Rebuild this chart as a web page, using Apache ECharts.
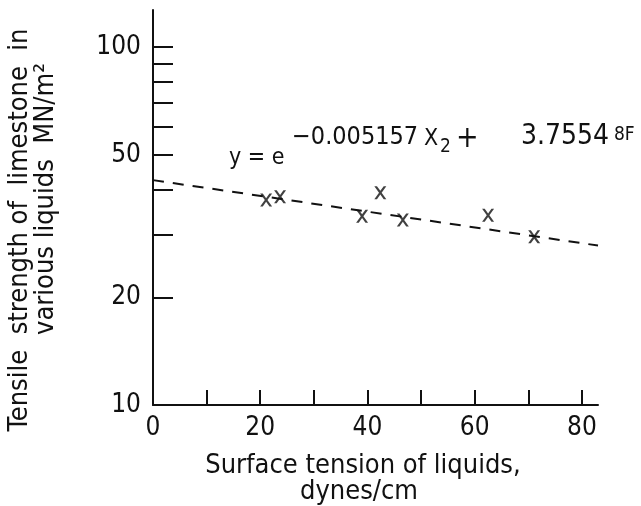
<!DOCTYPE html>
<html><head><meta charset="utf-8">
<script src="https://cdn.jsdelivr.net/npm/echarts@6/dist/echarts.min.js"></script>
<style>html,body{margin:0;padding:0;background:#fff}#c{width:641px;height:506px}</style>
</head><body><div id="c"></div>
<script>
// Data
const surfaceTension = [21.1, 23.7, 39.0, 42.4, 46.6, 62.5, 71.1];
const tensileStrength = [37.4, 38.2, 33.7, 39.2, 32.9, 33.9, 29.5];
const fitX = [0, 83];
const fitY = [42.5, 27.9];
const xTicks = [0, 10, 20, 30, 40, 50, 60, 70, 80];
const xLabels = [0, 20, 40, 60, 80];
const yTicks = [10, 20, 30, 40, 50, 60, 70, 80, 90, 100];
const yLabels = [10, 20, 50, 100];
const xMax = 83, yMin = 10, yMax = 127;

const FONT = "'Liberation Sans Narrow','DejaVu Sans Condensed','Liberation Sans',sans-serif";
const INK = '#111111';
const lg = v => Math.log10(v);
const crossPath = 'path://M0,0L2.2,0L5,3.6L7.8,0L10,0L6.1,5L10,10L7.8,10L5,6.4L2.2,10L0,10L3.9,5Z';

const chart = echarts.init(document.getElementById('c'), null, {renderer: 'canvas'});
chart.setOption({
  backgroundColor: '#ffffff',
  animation: false,
  grid: {left: 153, right: 43, top: 10, bottom: 101},
  xAxis: {
    type: 'value', min: 0, max: xMax,
    axisLine: {lineStyle: {color: INK, width: 2}},
    axisTick: {inside: true, length: 15, lineStyle: {color: INK, width: 2}, customValues: xTicks},
    axisLabel: {customValues: xLabels, color: INK, fontSize: 26, fontFamily: FONT, margin: 10},
    splitLine: {show: false}
  },
  yAxis: {
    type: 'value', min: lg(yMin), max: lg(yMax),
    axisLine: {lineStyle: {color: INK, width: 2}},
    axisTick: {inside: true, length: 20, lineStyle: {color: INK, width: 2}, customValues: yTicks.map(lg)},
    axisLabel: {customValues: yLabels.map(lg), color: INK, fontSize: 26, fontFamily: FONT, margin: 12,
      formatter: v => String(Math.round(Math.pow(10, v)))},
    splitLine: {show: false}
  },
  series: [
    {
      type: 'line', data: fitX.map((x, i) => [x, lg(fitY[i])]), symbol: 'none',
      lineStyle: {color: INK, width: 2, type: [11, 9]}, silent: true
    },
    {
      type: 'scatter', data: surfaceTension.map((x, i) => [x, lg(tensileStrength[i])]),
      symbol: crossPath, symbolSize: [12, 13], itemStyle: {color: INK}
    }
  ],
  graphic: [
    {type: 'text', x: 20, y: 230, rotation: Math.PI / 2, style: {text: 'Tensile  strength of  limestone  in', font: '27px ' + FONT, fill: INK, align: 'center', verticalAlign: 'middle'}},
    {type: 'text', x: 46, y: 199, rotation: Math.PI / 2, style: {text: 'various liquids  MN/m²', font: '27px ' + FONT, fill: INK, align: 'center', verticalAlign: 'middle'}},
    {type: 'text', x: 363, y: 466, style: {text: 'Surface tension of liquids,', font: '27px ' + FONT, fill: INK, align: 'center', verticalAlign: 'middle'}},
    {type: 'text', x: 359, y: 492, style: {text: 'dynes/cm', font: '27px ' + FONT, fill: INK, align: 'center', verticalAlign: 'middle'}},
    {type: 'text', x: 229, y: 158, style: {text: 'y = e', font: '23px ' + FONT, fill: INK, align: 'left', verticalAlign: 'middle'}},
    {type: 'text', x: 292, y: 137, style: {text: '−0.005157', font: '25px ' + FONT, fill: INK, align: 'left', verticalAlign: 'middle'}},
    {type: 'text', x: 424, y: 139, style: {text: 'X', font: '23px ' + FONT, fill: INK, align: 'left', verticalAlign: 'middle'}},
    {type: 'text', x: 440, y: 147, style: {text: '2', font: '19px ' + FONT, fill: INK, align: 'left', verticalAlign: 'middle'}},
    {type: 'text', x: 456, y: 139, style: {text: '+', font: '30px ' + FONT, fill: INK, align: 'left', verticalAlign: 'middle'}},
    {type: 'text', x: 521, y: 137, style: {text: '3.7554', font: '28px ' + FONT, fill: INK, align: 'left', verticalAlign: 'middle'}},
    {type: 'text', x: 614, y: 135, style: {text: '8F', font: '19px ' + FONT, fill: INK, align: 'left', verticalAlign: 'middle'}}
  ]
});
</script></body></html>
